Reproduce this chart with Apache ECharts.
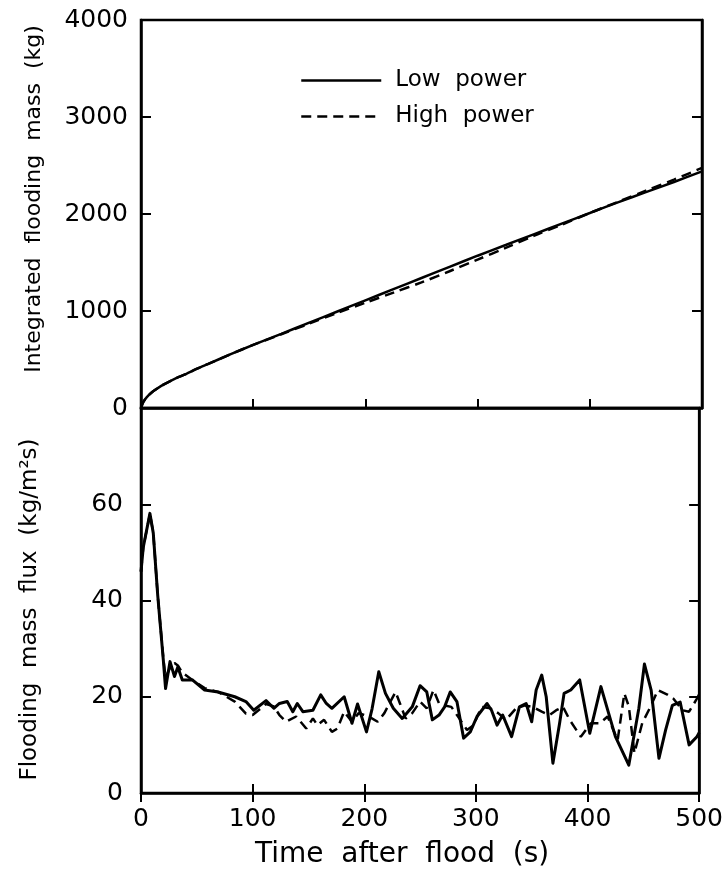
<!DOCTYPE html>
<html><head><meta charset="utf-8">
<script src="https://cdn.jsdelivr.net/npm/echarts@6/dist/echarts.min.js"></script>
<style>html,body{margin:0;padding:0;background:#fff}#c{width:726px;height:872px}</style>
</head><body><div id="c"></div>
<script>
// Integrated flooding mass (kg)
var massTime = [0,2,5,10,15,20,30,40,50,60,80,100,125,150,175,200,225,250,275,300,325,350,375,400,425,450,475,500];
var massLow  = [0,60,110,165,205,240,300,350,405,455,555,650,765,880,995,1110,1225,1340,1455,1570,1680,1790,1900,2010,2120,2225,2330,2440];
var massHigh = [0,60,110,165,205,240,300,350,405,455,555,650,760,870,980,1085,1190,1295,1410,1530,1650,1775,1890,2010,2125,2240,2355,2475];

// Flooding mass flux (kg/m2s)
var fluxLowTime = [0,2,8,11,15,20,22,26,30,33,37,46,57,69,84,94,101,112,119,124,131,136,140,145,154,161,166,171,182,189,194,202,207,213,219,226,234,243,250,256,261,267,272,277,283,289,295,301,310,314,319,324,332,339,345,350,354,359,363,369,375,379,385,393,402,412,425,437,446,451,457,464,470,476,483,491,498,500];
var fluxLow = [46,51,58.1,54,41,27.6,21.7,27.3,24.2,26.2,23.5,23.5,21.4,21,20,19,17.2,19.2,17.6,18.6,19,16.9,18.6,16.9,17.2,20.4,18.6,17.6,20,14.5,18.5,12.7,17.5,25.2,20.7,17.6,15.5,17.9,22.3,21,15.2,16.2,17.9,21,19,11.4,12.7,15.9,18.6,17.2,14.1,16.2,11.7,17.9,18.6,14.8,21.4,24.5,20,6.2,14.5,20.7,21.4,23.5,12.4,22.1,11.7,5.8,17.6,26.8,21.4,7.2,13.1,18.2,18.9,10,11.7,12.5];
var fluxHighTime = [0,2,8,11,15,20,22,26,30,33,37,46,57,69,84,94,100,112,119,124,130,139,148,154,158,164,171,176,182,189,195,204,212,218,228,232,237,243,250,256,262,267,272,278,286,292,298,305,313,320,327,336,344,351,359,366,372,378,384,394,403,411,418,427,433,437,442,449,457,463,472,477,485,491,498,500];
var fluxHigh = [46,51,58,54,41,28,24,26,27,26.5,25,23.5,21.8,21,19,16.5,16.2,18.5,18,16.2,14.8,15.9,13.4,15.5,14.1,15.2,12.7,13.4,16.9,14.8,16.6,15.9,14.8,16.6,21,18.6,15.5,16.6,19,17.6,21.4,18.6,18.2,17.9,15.2,13.1,14.1,17.9,17.6,16.6,15.2,17.6,18.2,17.9,16.9,16.2,17.2,17.9,15.2,11.7,14.5,14.5,15.9,11,20.7,18,8.3,14.5,18.2,21.4,20.4,19.6,17.2,16.9,19.6,20.5];

var xTicks = [0,100,200,300,400,500];
var seriesNames = ['Low  power','High  power'];
var xTitle = 'Time  after  flood  (s)';
var yTitleTop = 'Integrated  flooding  mass  (kg)';
var yTitleBottom = 'Flooding  mass  flux  (kg/m²s)';

function pairs(t, v){ return t.map(function(x,i){ return [x, v[i]]; }); }
function plain(v){ return String(v); }

var FONT = 'DejaVu Sans';
var black = '#000';
var dash = [10,6];

function xAx(grid, opts){
  return Object.assign({
    type:'value', gridIndex:grid, min:xTicks[0], max:xTicks[xTicks.length-1], interval:100,
    axisLine:{show:true, onZero:false, lineStyle:{color:black, width:2.5}},
    axisTick:{show:true, inside:true, length:9, lineStyle:{color:black, width:2}},
    axisLabel:{show:false},
    splitLine:{show:false}
  }, opts||{});
}
function yAx(grid, opts){
  return Object.assign({
    type:'value', gridIndex:grid,
    axisLine:{show:true, onZero:false, lineStyle:{color:black, width:2.5}},
    axisTick:{show:true, inside:true, length:10, lineStyle:{color:black, width:2}},
    axisLabel:{show:false},
    splitLine:{show:false}
  }, opts||{});
}

var chart = echarts.init(document.getElementById('c'), null, {renderer:'canvas'});
chart.setOption({
  backgroundColor:'#fff',
  animation:false,
  textStyle:{fontFamily:FONT, color:black},
  grid:[
    {left:141, right:24, top:20, height:388, show:true, borderColor:black, borderWidth:2.5},
    {left:141, right:24, top:408, height:385, show:true, borderColor:black, borderWidth:2.5}
  ],
  legend:{
    data:seriesNames, orient:'vertical', left:295, top:64, itemWidth:80, itemHeight:14, itemGap:13,
    itemStyle:{opacity:0},
    lineStyle:{width:2.5},
    textStyle:{fontFamily:FONT, fontSize:23, color:black, padding:[0,0,0,9]},
    selectedMode:false
  },
  xAxis:[
    xAx(0),
    xAx(1, {axisLabel:{show:true, fontFamily:FONT, fontSize:25, color:black, margin:14},
      name:xTitle, nameLocation:'middle', nameGap:48, nameTextStyle:{fontFamily:FONT, fontSize:28, color:black, padding:[0,36,0,0]}}),
    xAx(1, {position:'top', axisLine:{show:false}})
  ],
  yAxis:[
    yAx(0, {min:0, max:4000, interval:1000,
      axisLabel:{show:true, fontFamily:FONT, fontSize:25, color:black, margin:13, formatter:plain},
      name:yTitleTop, nameLocation:'middle', nameGap:96, nameTextStyle:{fontFamily:FONT, fontSize:22, color:black, padding:[0,0,0,30]}}),
    yAx(0, {min:0, max:4000, interval:1000, position:'right'}),
    yAx(1, {min:0, max:80, interval:20,
      axisLabel:{show:true, fontFamily:FONT, fontSize:25, color:black, margin:18, showMaxLabel:false, formatter:plain},
      name:yTitleBottom, nameLocation:'middle', nameGap:99, nameTextStyle:{fontFamily:FONT, fontSize:23, color:black, padding:[0,18,0,0]}}),
    yAx(1, {min:0, max:80, interval:20, position:'right'})
  ],
  series:[
    {name:seriesNames[0], type:'line', xAxisIndex:0, yAxisIndex:0, data:pairs(massTime, massLow), showSymbol:false, symbol:'none', smooth:0.3, lineStyle:{color:black, width:2.5, type:'solid'}, itemStyle:{color:black}},
    {name:seriesNames[1], type:'line', xAxisIndex:0, yAxisIndex:0, data:pairs(massTime, massHigh), showSymbol:false, symbol:'none', smooth:0.3, lineStyle:{color:black, width:2.5, type:dash}, itemStyle:{color:black}},
    {name:seriesNames[0], type:'line', xAxisIndex:1, yAxisIndex:2, data:pairs(fluxLowTime, fluxLow), showSymbol:false, symbol:'none', smooth:false, lineStyle:{color:black, width:3, type:'solid', join:'round'}, itemStyle:{color:black}},
    {name:seriesNames[1], type:'line', xAxisIndex:1, yAxisIndex:2, data:pairs(fluxHighTime, fluxHigh), showSymbol:false, symbol:'none', smooth:false, lineStyle:{color:black, width:2.5, type:dash}, itemStyle:{color:black}}
  ]
});
</script></body></html>
